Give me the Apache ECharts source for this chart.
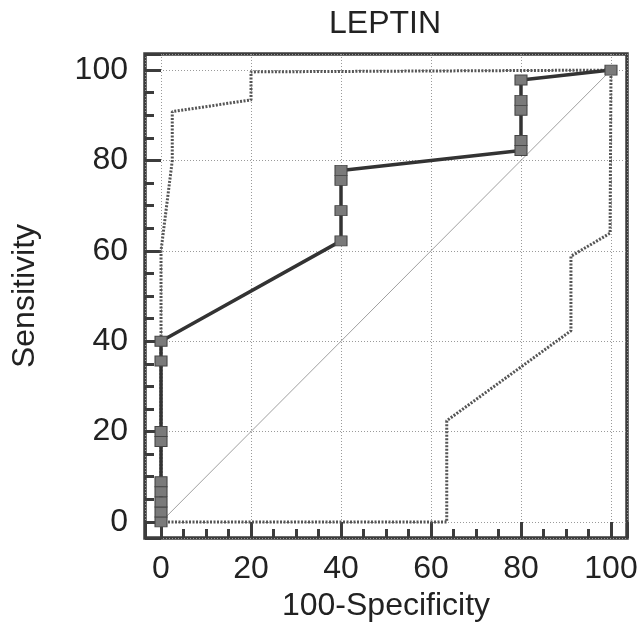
<!DOCTYPE html>
<html>
<head>
<meta charset="utf-8">
<script src="https://cdn.jsdelivr.net/npm/echarts@6/dist/echarts.min.js"></script>
<style>html,body{margin:0;padding:0;background:#fff;}#c{width:640px;height:635px;}</style>
</head>
<body>
<div id="c"></div>
<script>
// ROC curve (100-Specificity, Sensitivity)
const rocX = [0, 0, 0, 0, 0, 0, 0, 0, 0, 40, 40, 40, 40, 80, 80, 80, 80, 80, 100];
const rocY = [0, 2.2, 4.4, 6.7, 8.9, 17.8, 20, 35.6, 40, 62.2, 68.9, 75.6, 77.8, 82.2, 84.4, 91.1, 93.3, 97.8, 100];
// Upper confidence bound
const upperX = [0, 0, 2.5, 2.5, 20, 20, 100];
const upperY = [0, 60, 80, 90.8, 93.4, 99.6, 100];
// Lower confidence bound
const lowerX = [0, 63.5, 63.5, 91.1, 91.1, 99.8, 100, 100];
const lowerY = [0, 0, 22.4, 42.3, 58.8, 63.9, 64, 100];
// Reference diagonal
const diagX = [0, 100];
const diagY = [0, 100];
const tickLabels = [0, 20, 40, 60, 80, 100];

const pairs = (xs, ys) => xs.map((x, i) => [x, ys[i]]);
const FONT = "'Liberation Sans', Arial, sans-serif";
const fmt = v => (tickLabels.some(t => Math.abs(t - v) < 1e-6) ? String(Math.round(v)) : '');

const axisCommon = {
  type: 'value',
  min: -3.56,
  max: 103.56,
  splitNumber: 5,
  axisLine: { show: false, onZero: false },
  axisTick: { show: true, inside: true, length: 16, lineStyle: { color: '#3c3c3c', width: 3 } },
  minorTick: { show: true, splitNumber: 4, length: 9, lineStyle: { color: '#3c3c3c', width: 3 } },
  splitLine: { show: true, lineStyle: { color: '#9a9a9a', width: 1, type: [1, 2] } },
  axisLabel: { formatter: fmt, color: '#222', fontSize: 32, fontFamily: FONT, showMinLabel: false, showMaxLabel: false },
  nameLocation: 'middle',
  nameTextStyle: { color: '#222', fontSize: 32, fontFamily: FONT }
};

const chart = echarts.init(document.getElementById('c'), null, { renderer: 'canvas' });
chart.setOption({
  animation: false,
  backgroundColor: '#fff',
  title: {
    text: 'LEPTIN',
    left: 329,
    top: 8,
    padding: 0,
    textStyle: { color: '#222', fontSize: 32, fontWeight: 'normal', fontFamily: FONT }
  },
  grid: {
    left: 145, right: 13, top: 54, bottom: 97,
    show: true, borderColor: '#3c3c3c', borderWidth: 3.5,
    containLabel: false, outerBoundsMode: 'none'
  },
  xAxis: Object.assign({}, axisCommon, {
    name: '100-Specificity',
    nameGap: 42,
    axisLabel: Object.assign({}, axisCommon.axisLabel, { margin: 15 })
  }),
  yAxis: Object.assign({}, axisCommon, {
    name: 'Sensitivity',
    nameGap: 104,
    axisLabel: Object.assign({}, axisCommon.axisLabel, { margin: 17 })
  }),
  series: [
    {
      type: 'line', data: pairs(diagX, diagY), symbol: 'none', silent: true,
      lineStyle: { color: '#a0a0a0', width: 1 }, z: 2
    },
    {
      type: 'line', data: pairs(upperX, upperY), symbol: 'none', silent: true,
      lineStyle: { color: '#555', width: 3, type: [2, 1.5] }, z: 3
    },
    {
      type: 'line', data: pairs(lowerX, lowerY), symbol: 'none', silent: true,
      lineStyle: { color: '#555', width: 3, type: [2, 1.5] }, z: 3
    },
    {
      type: 'line', data: pairs(rocX, rocY), symbol: 'rect', symbolSize: [12, 10],
      showAllSymbol: true,
      lineStyle: { color: '#333', width: 3.5 },
      itemStyle: { color: '#7a7a7a', borderColor: '#454545', borderWidth: 1 },
      z: 4
    }
  ]
});
</script>
</body>
</html>
